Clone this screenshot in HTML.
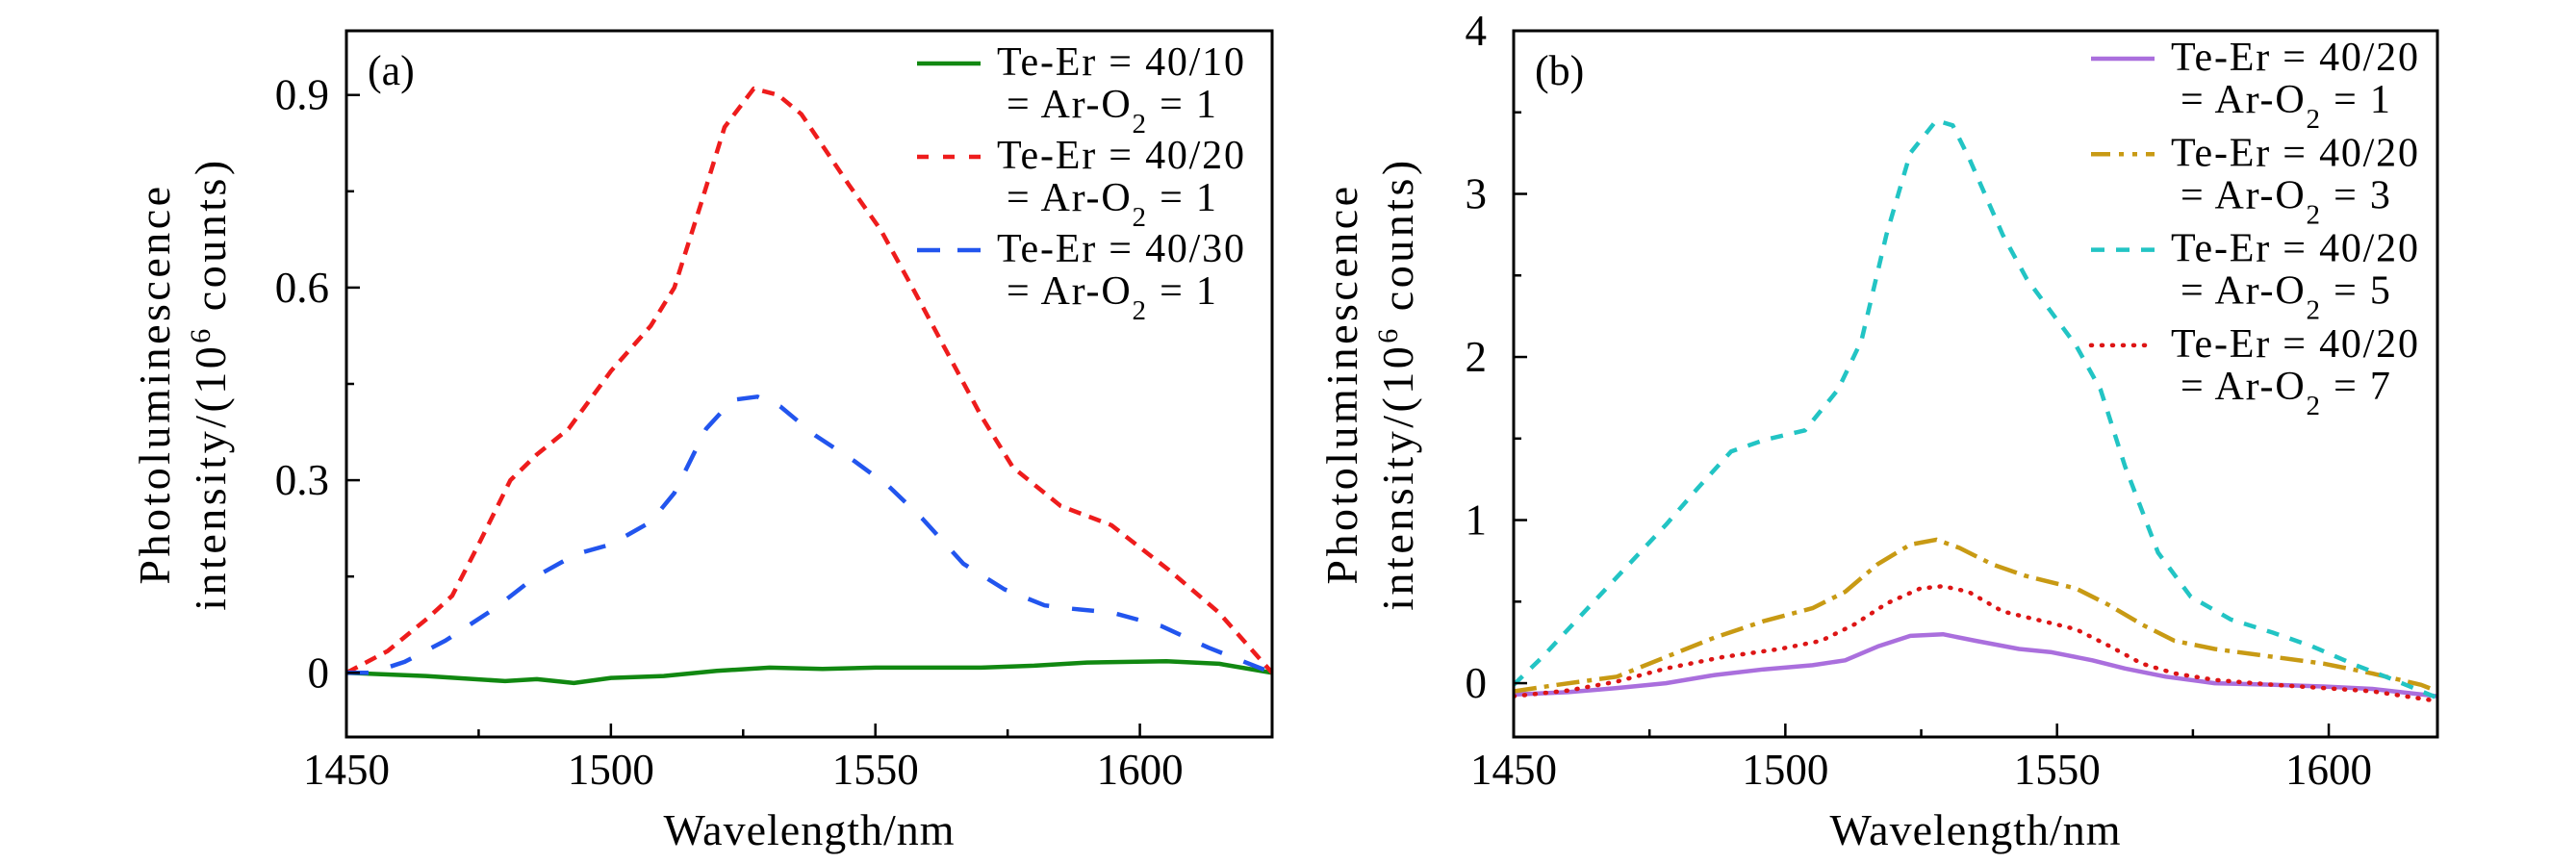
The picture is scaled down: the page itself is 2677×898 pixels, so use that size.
<!DOCTYPE html>
<html><head><meta charset="utf-8"><style>
html,body{margin:0;padding:0;background:#fff;}
svg{display:block;font-family:"Liberation Serif",serif;}
</style></head><body>
<svg id="fig" width="2677" height="898" viewBox="0 0 2677 898" xmlns="http://www.w3.org/2000/svg">
<rect width="2677" height="898" fill="#fff"/>
</svg>
<script>
// Panel (a) data
const aWlRed=[1450,1457.8,1465.5,1470,1475,1481,1486,1492,1500,1507.5,1512,1517,1521.5,1527,1531.6,1536,1545,1551,1557,1563.5,1570,1576,1585,1594.6,1605.5,1614.9,1625];
const aRed=[0,0.034,0.086,0.12,0.2,0.30,0.34,0.38,0.47,0.54,0.60,0.73,0.85,0.91,0.90,0.87,0.76,0.69,0.60,0.50,0.40,0.32,0.26,0.23,0.16,0.094,0];
const aWlBlue=[1450,1454.7,1461,1468.7,1478,1485.8,1493.5,1500,1507.5,1512,1518,1523,1527.7,1532,1538.6,1546,1552.6,1558.9,1566.6,1574.4,1582,1586.8,1594.6,1604,1613,1625];
const aBlue=[0,0,0.017,0.05,0.10,0.15,0.185,0.20,0.235,0.28,0.38,0.425,0.43,0.415,0.37,0.33,0.29,0.24,0.17,0.13,0.105,0.10,0.094,0.073,0.039,0];
const aWlGreen=[1450,1465,1480,1486,1493,1500,1510,1520,1530,1540,1550,1570,1580,1590,1605,1615,1625];
const aGreen=[0,-0.005,-0.013,-0.01,-0.016,-0.008,-0.005,0.003,0.008,0.006,0.008,0.008,0.011,0.016,0.018,0.014,0];
const aXTicks=[1450,1500,1550,1600];
const aYTicks=[0,0.3,0.6,0.9];
const aYTickLabels=["0","0.3","0.6","0.9"];
// Panel (b) data
const bWlCyan=[1450,1455.3,1462.8,1470.4,1478,1484,1490,1496,1503.6,1509.7,1514,1518.6,1523,1527.8,1530.8,1533.8,1540,1544.4,1553.5,1558,1562.5,1568.6,1574.6,1582,1589.7,1597,1605,1612,1620];
const bCyan=[-0.01,0.16,0.43,0.70,0.97,1.2,1.42,1.49,1.55,1.8,2.1,2.75,3.25,3.45,3.42,3.22,2.75,2.48,2.07,1.8,1.33,0.80,0.53,0.39,0.31,0.225,0.11,0.02,-0.09];
const bWlGold=[1450,1458,1469,1478,1487,1496,1505,1511,1517,1523,1527.8,1532,1538,1544,1553.5,1559.5,1565.6,1571.6,1579,1590,1599,1608,1617,1620];
const bGold=[-0.05,-0.01,0.04,0.16,0.28,0.38,0.46,0.56,0.73,0.85,0.88,0.83,0.73,0.66,0.58,0.48,0.36,0.26,0.21,0.16,0.12,0.06,-0.01,-0.05];
const bWlRed=[1450,1460,1469,1478,1488.5,1499,1506.6,1512.7,1518.7,1524.8,1529,1533.7,1540,1547.4,1553.5,1559.5,1565.6,1571.6,1579,1590,1599,1608,1620];
const bRed=[-0.08,-0.045,0.01,0.09,0.16,0.21,0.26,0.36,0.49,0.58,0.595,0.56,0.44,0.38,0.33,0.23,0.12,0.06,0.02,-0.01,-0.03,-0.05,-0.11];
const bWlPurple=[1450,1460,1469,1478,1487,1496,1505,1511,1517,1523,1529,1535,1543,1549,1556.5,1562.5,1570,1579,1590,1599,1608,1620];
const bPurple=[-0.07,-0.055,-0.03,0,0.05,0.085,0.11,0.14,0.225,0.29,0.30,0.26,0.21,0.19,0.14,0.09,0.04,0,-0.01,-0.02,-0.035,-0.08];
const bXTicks=[1450,1500,1550,1600];
const bYTicks=[0,1,2,3,4];
const bYTickLabels=["0","1","2","3","4"];

const NS="http://www.w3.org/2000/svg";
const svg=document.getElementById('fig');
function mk(tag,attrs,parent){const e=document.createElementNS(NS,tag);for(const k in attrs)e.setAttribute(k,attrs[k]);(parent||svg).appendChild(e);return e;}

function panel(cfg){
  const g=mk('g',{});
  
  
  const sx=v=>cfg.L+(v-cfg.x0)/(cfg.x1-cfg.x0)*(cfg.R-cfg.L);
  const sy=v=>cfg.B-(v-cfg.y0)/(cfg.y1-cfg.y0)*(cfg.B-cfg.T);
  const clipId='clip-'+cfg.name;
  const cp=mk('clipPath',{id:clipId},g);mk('rect',{x:cfg.L,y:cfg.T,width:cfg.R-cfg.L,height:cfg.B-cfg.T},cp);
  cfg.series.forEach(s=>{
    const pts=s.x.map((xv,i)=>sx(xv).toFixed(1)+','+sy(s.y[i]).toFixed(1)).join(' ');
    const p=mk('polyline',{points:pts,fill:'none',stroke:s.color,'stroke-width':4.5,'stroke-dasharray':s.dash||'none','stroke-linejoin':'round','stroke-linecap':s.cap||'butt','clip-path':'url(#'+clipId+')'},g);
    
    
  });
  const fr=mk('rect',{x:cfg.L,y:cfg.T,width:cfg.R-cfg.L,height:cfg.B-cfg.T,fill:'none',stroke:'#000','stroke-width':3},g);
  
  
  cfg.xt.forEach(t=>{
    const x=sx(t);
    mk('line',{x1:x,y1:cfg.B,x2:x,y2:cfg.B-14,stroke:'#000','stroke-width':2.5},g);
    const tx=mk('text',{x:x,y:cfg.B+49,'font-size':45,'text-anchor':'middle'},g);
    tx.textContent=t;
    
    
  });
  for(let t=cfg.x0+25;t<cfg.x1;t+=50){const x=sx(t);mk('line',{x1:x,y1:cfg.B,x2:x,y2:cfg.B-8,stroke:'#000','stroke-width':2.5},g);}
  cfg.yt.forEach((t,i)=>{
    const y=sy(t);
    mk('line',{x1:cfg.L,y1:y,x2:cfg.L+14,y2:y,stroke:'#000','stroke-width':2.5},g);
    const tx=mk('text',{x:cfg.L-cfg.lblGap,y:y+15,'font-size':45,'text-anchor':'end'},g);
    tx.textContent=cfg.ytl[i];
    
    
  });
  for(let i=0;i<cfg.yt.length;i++){const t=cfg.yt[i]+cfg.ym;if(t<cfg.y1){const y=sy(t);mk('line',{x1:cfg.L,y1:y,x2:cfg.L+8,y2:y,stroke:'#000','stroke-width':2.5},g);}}
  const xtTitle=mk('text',{x:(cfg.L+cfg.R)/2,y:878,'font-size':46,'text-anchor':'middle','letter-spacing':'1'},g);
  xtTitle.textContent='Wavelength/nm';
  
  
  const yt=mk('text',{transform:'translate('+cfg.yx+','+((cfg.T+cfg.B)/2)+') rotate(-90)','font-size':46,'text-anchor':'middle','letter-spacing':'3.5'},g);
  
  
  yt.innerHTML='<tspan x="0" y="0">Photoluminescence</tspan><tspan x="0" y="58">intensity/(10<tspan baseline-shift="super" font-size="30">6</tspan> counts)</tspan>';
  const pl=mk('text',{x:cfg.L+22,y:cfg.T+56,'font-size':44},g);
  pl.textContent=cfg.label;
  
  
  cfg.series.forEach((s,i)=>{
    const y=cfg.legY+i*cfg.legDy;
    const lg=mk('g',{},g);
    
    
    mk('line',{x1:cfg.legX,y1:y,x2:cfg.legX+66,y2:y,stroke:s.color,'stroke-width':4.5,'stroke-dasharray':s.ldash||s.dash||'none','stroke-linecap':s.cap||'butt'},lg);
    const t1=mk('text',{x:cfg.legX+83,y:y+12,'font-size':42,'letter-spacing':'1.8'},lg);
    t1.textContent=s.l1;
    const t2=mk('text',{x:cfg.legX+93,y:y+56,'font-size':42,'letter-spacing':'1.8'},lg);
    t2.innerHTML='= Ar-O<tspan baseline-shift="sub" font-size="29">2</tspan> = '+s.l2;
  });
}

panel({name:'panel-a',L:360,R:1322,T:32,B:766,x0:1450,x1:1625,y0:-0.1,y1:1.0,xt:aXTicks,yt:aYTicks,ytl:aYTickLabels,ym:0.15,yx:176,lblGap:18,label:'(a)',legX:953,legY:66,legDy:97,
 series:[
  {id:'series-40-10',x:aWlGreen,y:aGreen,color:'#118811',l1:'Te-Er = 40/10',l2:'1'},
  {id:'series-40-20',x:aWlRed,y:aRed,color:'#ee1c1c',dash:'13 9',ldash:'12 15',l1:'Te-Er = 40/20',l2:'1'},
  {id:'series-40-30',x:aWlBlue,y:aBlue,color:'#2255ee',dash:'23 24',ldash:'24 18',l1:'Te-Er = 40/30',l2:'1'}
 ]});
panel({name:'panel-b',L:1573,R:2533,T:32,B:766,x0:1450,x1:1620,y0:-0.33,y1:4.0,xt:bXTicks,yt:bYTicks,ytl:bYTickLabels,ym:0.5,yx:1410,lblGap:28,label:'(b)',legX:2173,legY:61,legDy:99.3,
 series:[
  {id:'series-ar-o2-1',x:bWlPurple,y:bPurple,color:'#aa6fdd',l1:'Te-Er = 40/20',l2:'1'},
  {id:'series-ar-o2-3',x:bWlGold,y:bGold,color:'#c89a14',dash:'24 8 5 8',ldash:'20 9 5 9 5 9',l1:'Te-Er = 40/20',l2:'3'},
  {id:'series-ar-o2-5',x:bWlCyan,y:bCyan,color:'#22c4c4',dash:'13 12',ldash:'14 12',l1:'Te-Er = 40/20',l2:'5'},
  {id:'series-ar-o2-7',x:bWlRed,y:bRed,color:'#dd1515',dash:'1 10',cap:'round',l1:'Te-Er = 40/20',l2:'7'}
 ]});
</script>
</body></html>
